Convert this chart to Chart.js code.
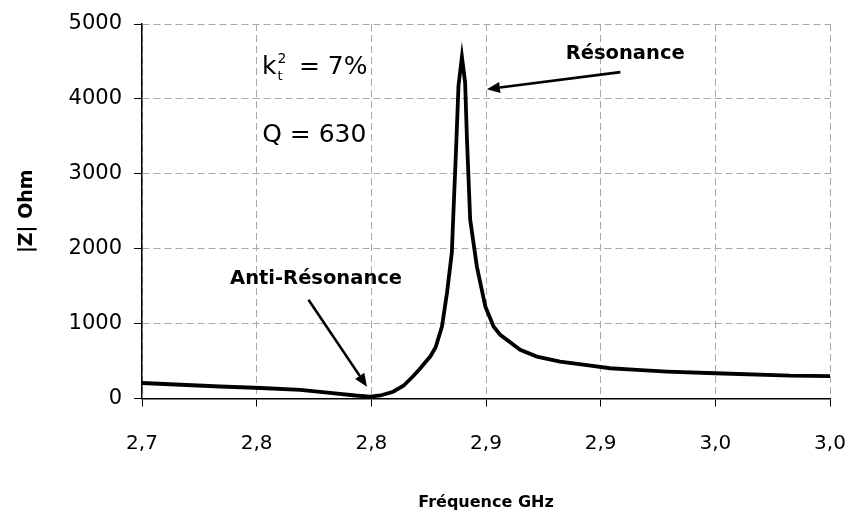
<!DOCTYPE html>
<html>
<head>
<meta charset="utf-8">
<script src="https://cdn.jsdelivr.net/npm/chart.js@4.4.1/dist/chart.umd.min.js"></script>
<style>
  html, body { margin: 0; padding: 0; background: #fff; }
  #wrap { width: 851px; height: 512px; }
</style>
</head>
<body>
<div id="wrap"><canvas id="chart" width="851" height="512"></canvas></div>
<script>
"use strict";

/* ── Data ─────────────────────────────────────────────── */
const freqGHz = [
  2.700, 2.734, 2.752, 2.769, 2.782, 2.793, 2.7995, 2.804, 2.8095, 2.814,
  2.818, 2.821, 2.824, 2.8257, 2.828, 2.8308, 2.833, 2.8351, 2.8358, 2.837,
  2.838, 2.8395, 2.8409, 2.8417, 2.8431, 2.846, 2.8497, 2.8533, 2.8562, 2.8649,
  2.8722, 2.8823, 2.894, 2.9041, 2.9158, 2.9289, 2.9499, 2.9826, 3.000
];
const impedanceOhm = [
  207, 160, 140, 115, 75, 40, 25, 40, 90, 170,
  290, 390, 500, 560, 680, 961, 1412, 1948, 2483, 3371,
  4174, 4560, 4220, 3460, 2390, 1765, 1229, 961, 850, 650,
  560, 493, 445, 404, 381, 360, 337, 305, 300
];
const xTickValues = [2.70, 2.75, 2.80, 2.85, 2.90, 2.95, 3.00];
const xTickLabels = ["2,7", "2,8", "2,8", "2,9", "2,9", "3,0", "3,0"];
const yTickValues = [0, 1000, 2000, 3000, 4000, 5000];
const yTickLabels = ["0", "1000", "2000", "3000", "4000", "5000"];

/* ── Annotations (anchored in data space) ─────────────── */
const TICK_FONT = '"DejaVu Sans", "Liberation Sans", sans-serif';
const HAND_FONT = '"Comic Sans MS", "DejaVu Sans", sans-serif';

const notes = {
  resText:  { f: 2.9107, z: 4598, text: "Résonance" },
  resArrow: { from: [2.9086, 4357], to: [2.8504, 4130] },
  antiText: { f: 2.7759, z: 1590, text: "Anti-Résonance" },
  antiArrow:{ from: [2.7726, 1319], to: [2.7981, 158] },
  kText:    { f: 2.7523, z: 4331 },
  qText:    { f: 2.7524, z: 3420, text: "Q = 630" }
};

function drawArrow(ctx, x1, y1, x2, y2) {
  const ang = Math.atan2(y2 - y1, x2 - x1);
  const head = 13, half = 5.5;
  const bx = x2 - head * Math.cos(ang), by = y2 - head * Math.sin(ang);
  ctx.beginPath();
  ctx.moveTo(x1, y1);
  ctx.lineTo(bx, by);
  ctx.lineWidth = 2.6;
  ctx.strokeStyle = "#000";
  ctx.stroke();
  ctx.beginPath();
  ctx.moveTo(x2, y2);
  ctx.lineTo(bx + half * Math.sin(ang), by - half * Math.cos(ang));
  ctx.lineTo(bx - half * Math.sin(ang), by + half * Math.cos(ang));
  ctx.closePath();
  ctx.fillStyle = "#000";
  ctx.fill();
}

const notesPlugin = {
  id: "notes",
  afterDraw(chart) {
    const { ctx, scales: { x, y } } = chart;
    const px = (f) => x.getPixelForValue(f);
    const py = (z) => y.getPixelForValue(z);
    ctx.save();
    ctx.fillStyle = "#000";

    // hand-written labels
    ctx.font = "bold 19.5px " + HAND_FONT;
    ctx.textAlign = "center";
    ctx.textBaseline = "middle";
    ctx.fillText(notes.resText.text, px(notes.resText.f), py(notes.resText.z));
    ctx.fillText(notes.antiText.text, px(notes.antiText.f), py(notes.antiText.z));

    const ra = notes.resArrow, aa = notes.antiArrow;
    drawArrow(ctx, px(ra.from[0]), py(ra.from[1]), px(ra.to[0]), py(ra.to[1]));
    drawArrow(ctx, px(aa.from[0]), py(aa.from[1]), px(aa.to[0]), py(aa.to[1]));

    // k_t^2 = 7%
    ctx.fillStyle = "#000";
    ctx.textAlign = "left";
    ctx.textBaseline = "alphabetic";
    const kx = px(notes.kText.f), ky = py(notes.kText.z);
    ctx.font = "25px " + TICK_FONT;
    ctx.fillText("k", kx, ky);
    const kw = ctx.measureText("k").width;
    ctx.font = "13px " + TICK_FONT;
    ctx.fillText("t", kx + kw + 1, ky + 6);
    ctx.font = "14px " + TICK_FONT;
    ctx.fillText("2", kx + kw + 1, ky - 11);
    ctx.font = "25px " + TICK_FONT;
    ctx.fillText("= 7%", kx + 37, ky);

    // Q = 630
    ctx.fillText(notes.qText.text, px(notes.qText.f), py(notes.qText.z));
    ctx.restore();
  }
};

/* ── Chart ────────────────────────────────────────────── */
const points = freqGHz.map((f, i) => ({ x: f, y: impedanceOhm[i] }));

new Chart(document.getElementById("chart").getContext("2d"), {
  type: "line",
  data: {
    datasets: [{
      data: points,
      borderColor: "#000",
      borderWidth: 3.8,
      pointRadius: 0,
      tension: 0,
      fill: false
    }]
  },
  options: {
    responsive: false,
    animation: false,
    layout: { padding: { top: 24, right: 21, left: 0, bottom: 0 } },
    plugins: { legend: { display: false }, tooltip: { enabled: false } },
    scales: {
      x: {
        type: "linear",
        min: 2.70,
        max: 3.00,
        afterBuildTicks: (s) => { s.ticks = xTickValues.map((v) => ({ value: v })); },
        afterFit: (s) => { s.height = 113.5; s.paddingLeft = 0; s.paddingRight = 0; },
        ticks: {
          color: "#000",
          font: { family: TICK_FONT, size: 20 },
          padding: 25,
          maxRotation: 0,
          callback: (v, i) => xTickLabels[i]
        },
        grid: { color: "#a8a8a8", tickColor: "#000", tickLength: 8, lineWidth: 1 },
        border: { color: "#000", width: 1.5, dash: [7, 4] },
        title: {
          display: true,
          text: "Fréquence GHz",
          color: "#000",
          font: { family: HAND_FONT, size: 16, weight: "bold" },
          padding: { top: 0, bottom: 0 }
        }
      },
      y: {
        min: 0,
        max: 5000,
        afterBuildTicks: (s) => { s.ticks = yTickValues.map((v) => ({ value: v })); },
        afterFit: (s) => { s.width = 142; s.paddingTop = 0; s.paddingBottom = 0; },
        ticks: {
          color: "#000",
          font: { family: TICK_FONT, size: 21 },
          padding: 12,
          callback: (v, i) => yTickLabels[i]
        },
        grid: { color: "#a8a8a8", tickColor: "#000", tickLength: 8, lineWidth: 1 },
        border: { color: "#000", width: 1.5, dash: [7, 4] },
        title: {
          display: true,
          text: "|Z| Ohm",
          color: "#000",
          font: { family: HAND_FONT, size: 19, weight: "bold" },
          padding: { top: 16, bottom: 0 }
        }
      }
    }
  },
  plugins: [notesPlugin]
});
</script>
</body>
</html>
